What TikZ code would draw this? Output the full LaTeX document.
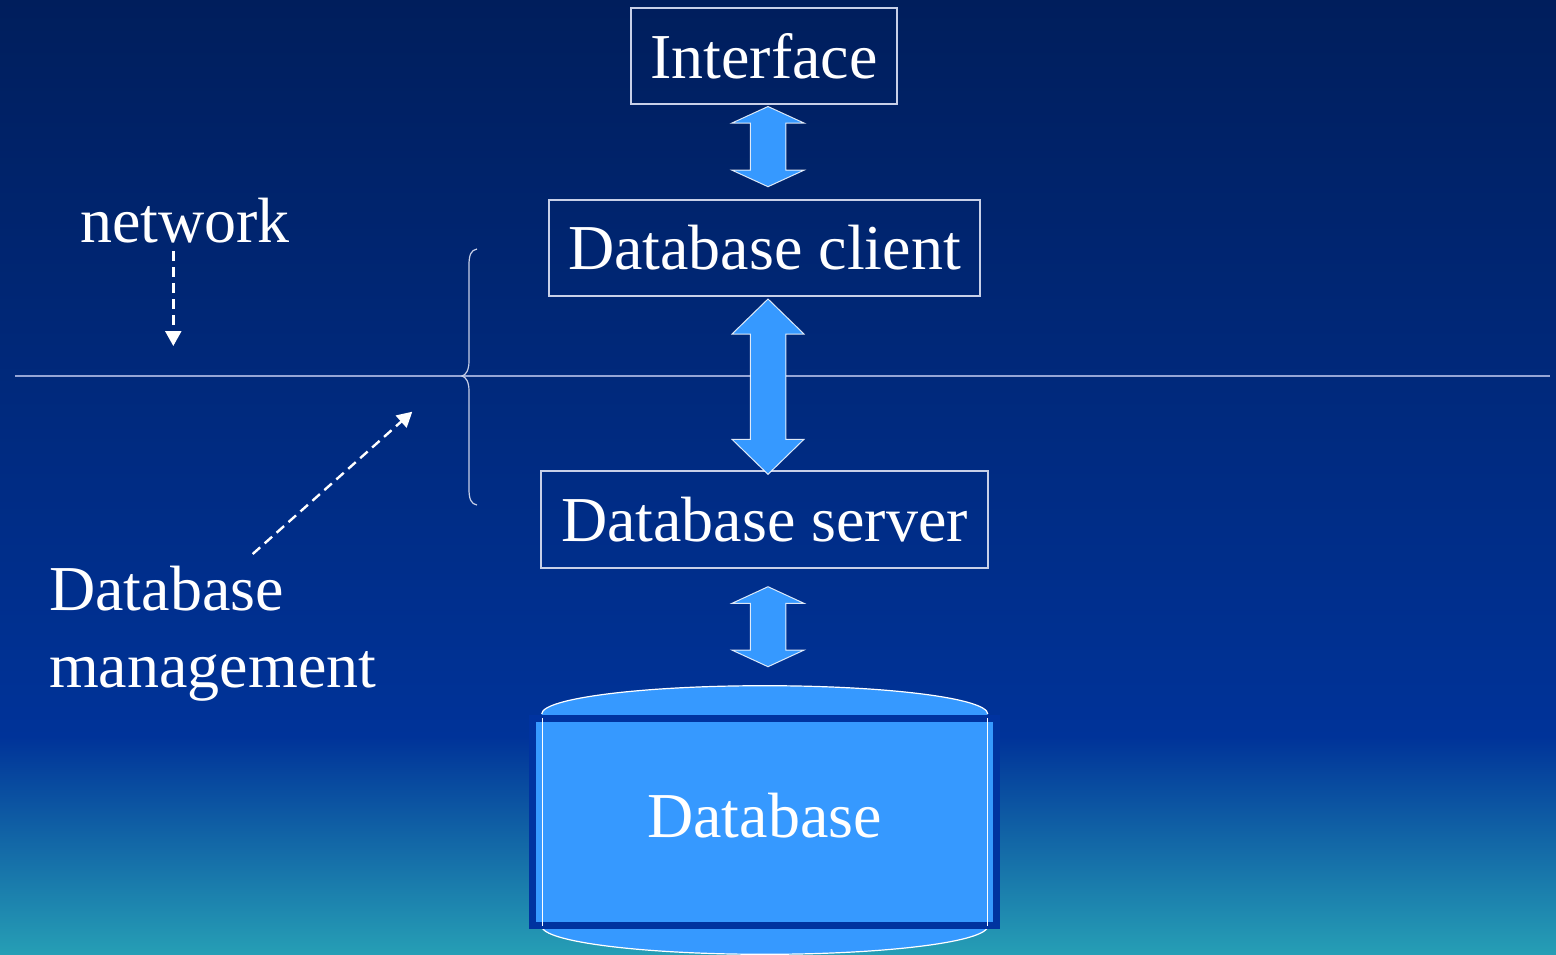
\documentclass[tikz,border=0pt]{standalone}
\usepackage{fontspec}
\setmainfont{Liberation Serif}
\usetikzlibrary{calc,arrows.meta}

\definecolor{navytop}{RGB}{0,30,92}
\definecolor{navymid}{RGB}{0,51,153}
\definecolor{tealbot}{RGB}{38,158,181}
\definecolor{skyblue}{RGB}{54,153,255}
\definecolor{dbedge}{RGB}{0,51,160}
\definecolor{framecol}{RGB}{200,208,232}
\definecolor{rulecol}{RGB}{150,166,214}

% broad two-headed arrow: top tip, bottom tip, head length
\newcommand\fatarrow[3]{%
  \filldraw[fatarrowstyle] (#1) -- ($(#1)+(36,#3)$) -- ($(#1)+(17.75,#3)$)
    -- ($(#2)+(17.75,-#3)$) -- ($(#2)+(36,-#3)$) -- (#2)
    -- ($(#2)+(-36,-#3)$) -- ($(#2)+(-17.75,-#3)$)
    -- ($(#1)+(-17.75,#3)$) -- ($(#1)+(-36,#3)$) -- cycle;}

\begin{document}
\begin{tikzpicture}[x=1pt,y=-1pt,
  bigtext/.style={font=\fontsize{64}{77}\selectfont, text=white},
  box/.style={bigtext, draw=framecol, line width=1.2pt, minimum height=96pt, inner sep=0pt},
  caption/.style={bigtext, inner sep=0pt},
  fatarrowstyle/.style={fill=skyblue, draw=white, draw opacity=0.85, line width=1pt, line join=miter},
  dasharrow/.style={white, line width=2.4pt, dash pattern=on 10pt off 6pt,
    -{Triangle[width=16pt,length=15pt]}},
  dbbox/.style={bigtext, draw=dbedge, line width=7pt, fill=skyblue,
    minimum width=464pt, minimum height=207pt, inner sep=0pt,
    text height=30pt, text depth=0pt},
]
% background
\useasboundingbox (0,0) rectangle (1556,954);
\shade[top color=navytop, bottom color=navymid] (0,0) rectangle (1556,737);
\shade[top color=navymid, bottom color=tealbot] (0,736) rectangle (1556,954);

% network boundary
\coordinate (ruleL) at (15,376);
\coordinate (ruleR) at (1550,376);
\draw[rulecol, line width=2pt] (ruleL) -- (ruleR);

% tiers
\node[box, minimum width=266pt] (iface) at (764,56) {Interface};
\node[box, minimum width=431pt] (client) at (764.5,248) {Database client};
\node[box, minimum width=447pt, minimum height=97pt] (server) at (764.5,519.5) {Database server};

% database drum
\fill[skyblue] (764.7,714) ellipse [x radius=223pt, y radius=28.3pt];
\draw[white, line width=1.2pt] (541.7,714) arc[start angle=180, end angle=0, x radius=223pt, y radius=28.3pt];
\fill[skyblue] (764.7,926) ellipse [x radius=223pt, y radius=28.3pt];
\draw[white, line width=1.2pt] (541.7,926) arc[start angle=180, end angle=360, x radius=223pt, y radius=28.3pt];
\node[dbbox] (db) at (764.5,822) {Database};
\draw[white, line width=1.3pt] (542.3,718) -- (542.3,926);
\draw[white, line width=1.3pt] (987.7,718) -- (987.7,926);

% links between tiers
\coordinate (a1t) at (768,106.5);
\coordinate (a1b) at (768,186.7);
\coordinate (a2t) at (768,299);
\coordinate (a2b) at (768,474.3);
\coordinate (a3t) at (768,586.7);
\coordinate (a3b) at (768,666.7);
\fatarrow{a1t}{a1b}{16.5}
\fatarrow{a2t}{a2b}{35}
\fatarrow{a3t}{a3b}{16.6}

% brace spanning the boundary
\draw[framecol, line width=1.2pt]
  (477,249) .. controls (471,250) and (469,255) .. (469,265)
  -- (469,361) .. controls (469,370) and (466,375) .. (462,376)
  .. controls (466,377) and (469,382) .. (469,391)
  -- (469,489) .. controls (469,499) and (471,504) .. (477,505);

% side labels
\node[caption, anchor=base west] (net) at (80,242) {network};
\coordinate (netA) at (173.3,251);
\coordinate (netB) at (173.3,346);
\draw[dasharrow] (netA) -- (netB);

\node[caption, anchor=base west] (dbm1) at (49,610) {Database};
\node[caption, anchor=base west] (dbm2) at (49,687) {management};
\coordinate (dbmA) at (252.7,554);
\coordinate (dbmB) at (412.3,411.7);
\draw[dasharrow] (dbmA) -- (dbmB);
\end{tikzpicture}
\end{document}
